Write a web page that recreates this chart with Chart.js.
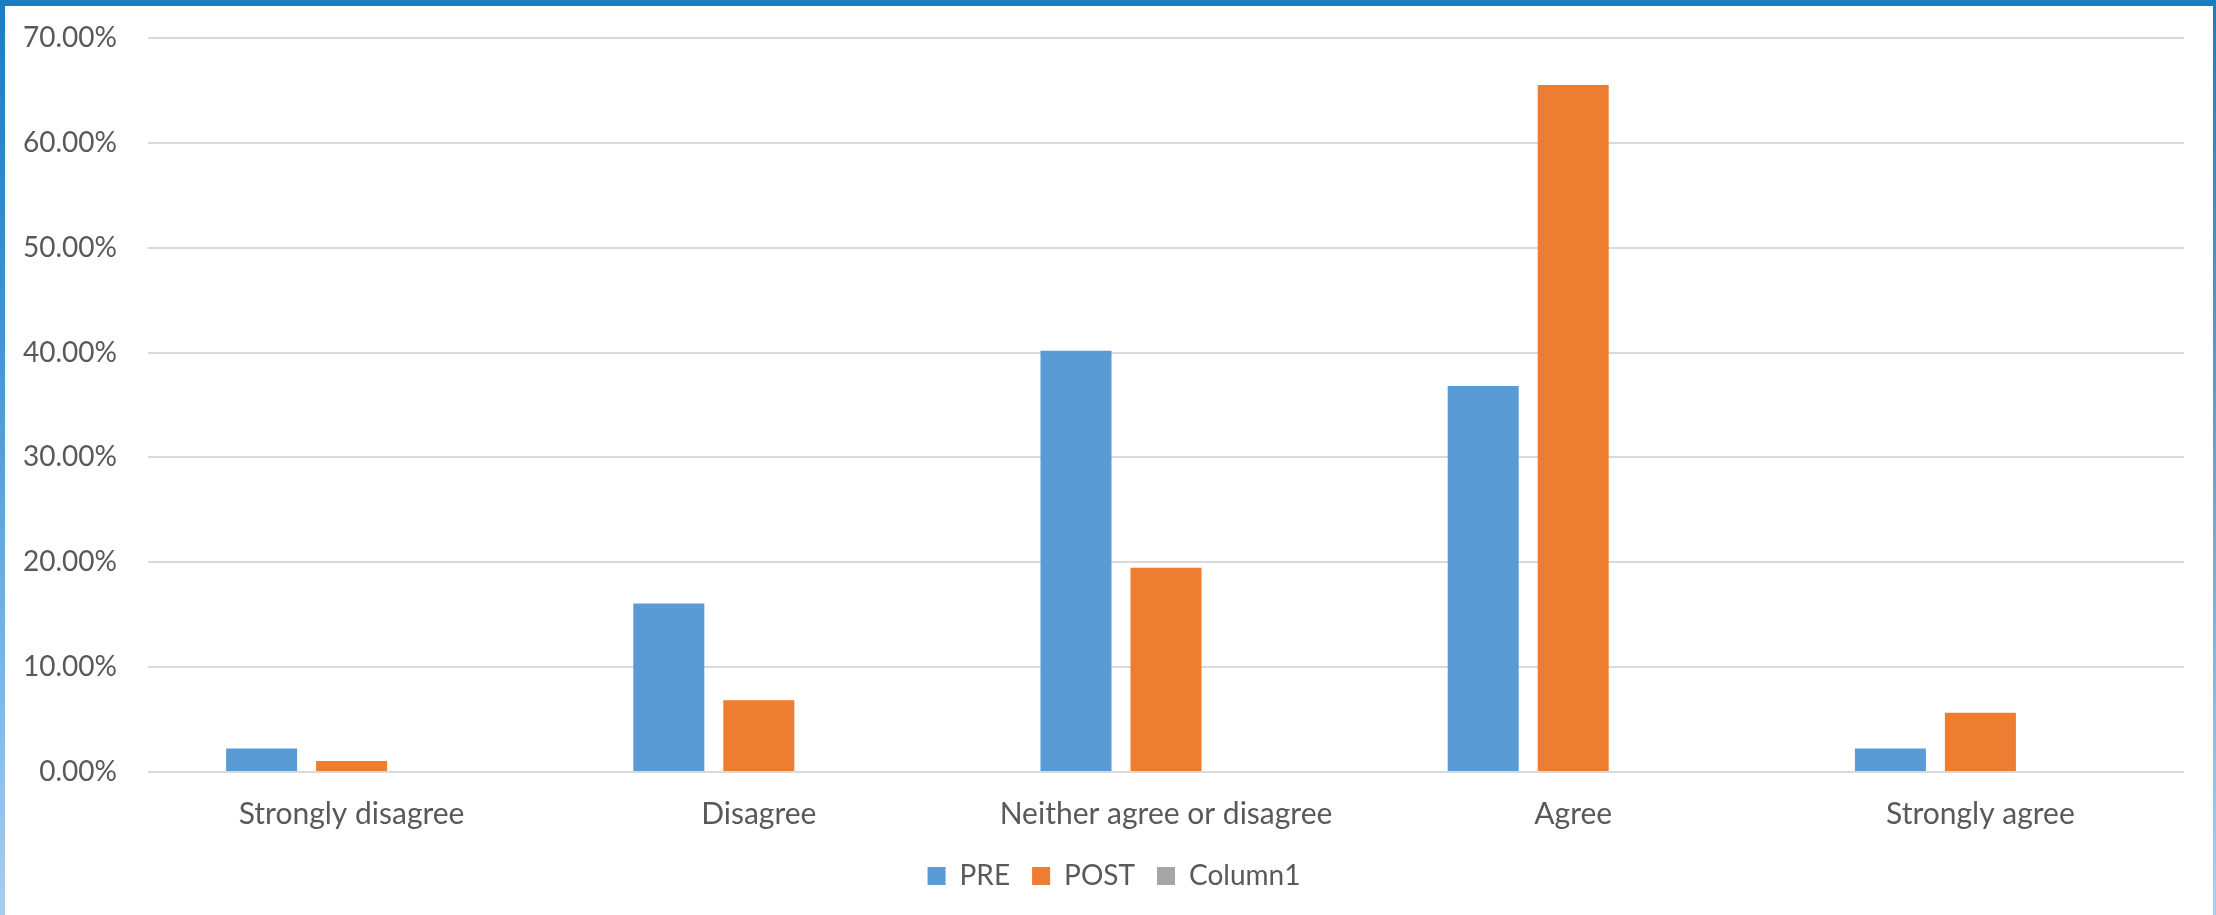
<!DOCTYPE html>
<html>
<head>
<meta charset="utf-8">
<title>PRE vs POST responses</title>
<script src="https://cdn.jsdelivr.net/npm/chart.js@4/dist/chart.umd.min.js"></script>
<style>
  html, body { margin: 0; padding: 0; background: #ffffff; }
  #frame { position: relative; width: 2216px; height: 915px; overflow: hidden; background: #ffffff; }
  #chart { position: absolute; left: 0; top: 0; }
  .edge { position: absolute; pointer-events: none; }
  #edgeTop { left: 0; top: 0; width: 2216px; height: 6px; background: #1a7dc4; }
  #edgeLeft { left: 0; top: 0; width: 5px; height: 915px; background: linear-gradient(#1a7dc4, #3f93d3 35%, #a9cdee); }
  #edgeRight { left: 2213px; top: 0; width: 3px; height: 915px; background: linear-gradient(#1a7dc4, #4a99d6 35%, #aacef0); }
</style>
</head>
<body>
<div id="frame">
  <canvas id="chart" width="2216" height="915"></canvas>
  <div class="edge" id="edgeTop"></div>
  <div class="edge" id="edgeLeft"></div>
  <div class="edge" id="edgeRight"></div>
</div>
<script>
// Response categories along the x axis
const categories = ['Strongly disagree', 'Disagree', 'Neither agree or disagree', 'Agree', 'Strongly agree'];

// Share of respondents per category (fractions)
const preValues  = [0.0223, 0.1607, 0.4018, 0.3681, 0.0225];
const postValues = [0.0104, 0.0684, 0.1947, 0.6552, 0.0566];
const column1Values = [null, null, null, null, null];

// Value axis ticks
const yTicks = [0, 0.1, 0.2, 0.3, 0.4, 0.5, 0.6, 0.7];

const textColor = '#595959';
const gridColor = '#d9d9d9';
const fontFamily = 'Lato, "Open Sans", sans-serif';

// Nudge the bottom legend so it is centred on the whole frame rather than the padded area
const legendCentering = {
  id: 'legendCentering',
  afterLayout(chart) {
    if (chart.legend) { chart.legend.left += 26; }
  }
};

new Chart(document.getElementById('chart'), {
  type: 'bar',
  data: {
    labels: categories,
    datasets: [
      { label: 'PRE', data: preValues, backgroundColor: '#5b9bd5', borderWidth: 0 },
      { label: 'POST', data: postValues, backgroundColor: '#ed7d31', borderWidth: 0 },
      { label: 'Column1', data: column1Values, backgroundColor: '#a5a5a5', borderWidth: 0 }
    ]
  },
  plugins: [legendCentering],
  options: {
    responsive: false,
    animation: false,
    devicePixelRatio: 1,
    categoryPercentage: 0.663,
    barPercentage: 0.789,
    layout: { padding: { top: 38, right: 32, bottom: 15, left: 18 } },
    plugins: {
      tooltip: { enabled: false },
      legend: {
        position: 'bottom',
        labels: {
          boxWidth: 18,
          boxHeight: 18,
          padding: 22,
          color: textColor,
          font: { family: fontFamily, size: 28 }
        }
      }
    },
    scales: {
      x: {
        grid: { display: false, drawTicks: false },
        border: { display: false },
        ticks: {
          color: textColor,
          font: { family: fontFamily, size: 30 },
          padding: 24,
          maxRotation: 0,
          autoSkip: false
        },
        afterFit: (axis) => { axis.height = 68; }
      },
      y: {
        min: 0,
        max: 0.7,
        afterBuildTicks: (axis) => { axis.ticks = yTicks.map(v => ({ value: v })); },
        grid: { color: gridColor, lineWidth: 2, drawTicks: true, tickLength: 31, tickColor: 'rgba(0,0,0,0)' },
        border: { display: false },
        ticks: {
          color: textColor,
          font: { family: fontFamily, size: 28 },
          padding: 0,
          callback: (v) => (v * 100).toFixed(2) + '%'
        },
        afterFit: (axis) => { axis.width = 130; }
      }
    }
  }
});
</script>
</body>
</html>
